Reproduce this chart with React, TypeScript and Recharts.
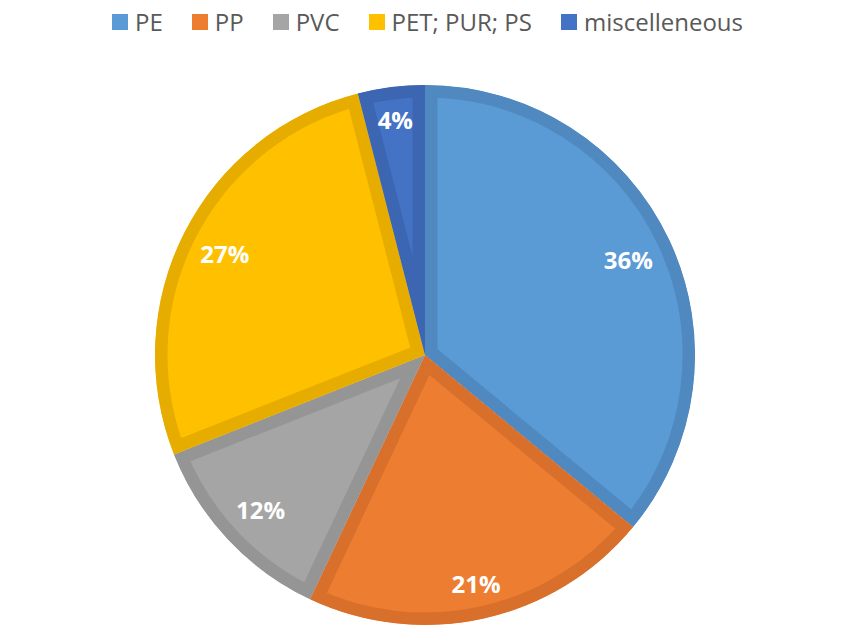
import React from 'react';
import { PieChart, Pie, Cell, Sector } from 'recharts';

const categories = ['PE', 'PP', 'PVC', 'PET; PUR; PS', 'miscelleneous'];
const shares = [36, 21, 12, 27, 4];
const fills = ['#5B9BD5', '#ED7D31', '#A5A5A5', '#FFC000', '#4472C4'];
const borders = ['#4F89C0', '#D8702B', '#959595', '#E6AD00', '#3C66B2'];

const data = categories.map((name, i) => ({ name, value: shares[i] }));

const RAD = Math.PI / 180;
const FONT = '"Open Sans", sans-serif';

const renderShape = (props: any) => {
  const name = props?.payload?.name ?? props?.name ?? '';
  const idx = categories.indexOf(name);
  const id = `clip-slice-${idx >= 0 ? idx : 'x'}`;
  const geo = {
    cx: props.cx,
    cy: props.cy,
    innerRadius: props.innerRadius,
    outerRadius: props.outerRadius,
    startAngle: props.startAngle,
    endAngle: props.endAngle,
  };
  return (
    <g>
      <defs>
        <clipPath id={id}>
          <Sector {...geo} />
        </clipPath>
      </defs>
      <g clipPath={`url(#${id})`}>
        <Sector
          {...geo}
          fill={fills[idx] ?? props.fill}
          stroke={borders[idx] ?? props.stroke}
          strokeWidth={25}
        />
      </g>
    </g>
  );
};

const renderLabel = (props: any) => {
  const { cx, cy, midAngle, outerRadius, value } = props;
  const text = `${value}%`;
  const fs = 24;
  const halfW = ((text.length - 1) * 0.572 * fs + 0.866 * fs) / 2;
  const halfH = 13;
  const dx = Math.cos(-midAngle * RAD);
  const dy = Math.sin(-midAngle * RAD);
  const extent = halfW * Math.abs(dx) + halfH * Math.abs(dy);
  const r = outerRadius - 18 - extent;
  const x = cx + r * dx;
  const y = cy + r * dy;
  return (
    <text
      x={x}
      y={y}
      fill="#FFFFFF"
      fontFamily={FONT}
      fontWeight={700}
      fontSize={fs}
      textAnchor="middle"
      dominantBaseline="central"
    >
      {text}
    </text>
  );
};

function LegendBar() {
  return (
    <div
      style={{
        position: 'absolute',
        left: 0,
        top: 6,
        width: 845,
        display: 'flex',
        justifyContent: 'center',
        alignItems: 'center',
        gap: 29,
        paddingLeft: 10,
        boxSizing: 'border-box',
        fontFamily: FONT,
        fontSize: 24,
        color: '#595959',
        lineHeight: '32px',
      }}
    >
      {categories.map((c, i) => (
        <div key={c} style={{ display: 'flex', alignItems: 'center' }}>
          <span
            style={{
              display: 'inline-block',
              width: 16,
              height: 16,
              background: fills[i],
              marginRight: 7,
            }}
          />
          <span>{c}</span>
        </div>
      ))}
    </div>
  );
}

export default function App() {
  return (
    <div style={{ position: 'absolute', left: 0, top: 0, width: 845, height: 636, background: '#fff' }}>
      <PieChart width={845} height={636} margin={{ top: 0, right: 0, bottom: 0, left: 0 }}>
        <Pie
          data={data}
          dataKey="value"
          nameKey="name"
          cx={425}
          cy={355}
          outerRadius={270}
          startAngle={90}
          endAngle={-270}
          isAnimationActive={false}
          labelLine={false}
          label={renderLabel}
          shape={renderShape}
          inactiveShape={renderShape}
          activeShape={renderShape}
          stroke="none"
        >
          {data.map((d, i) => (
            <Cell key={d.name} fill={fills[i]} stroke={borders[i]} />
          ))}
        </Pie>
      </PieChart>
      <LegendBar />
    </div>
  );
}
